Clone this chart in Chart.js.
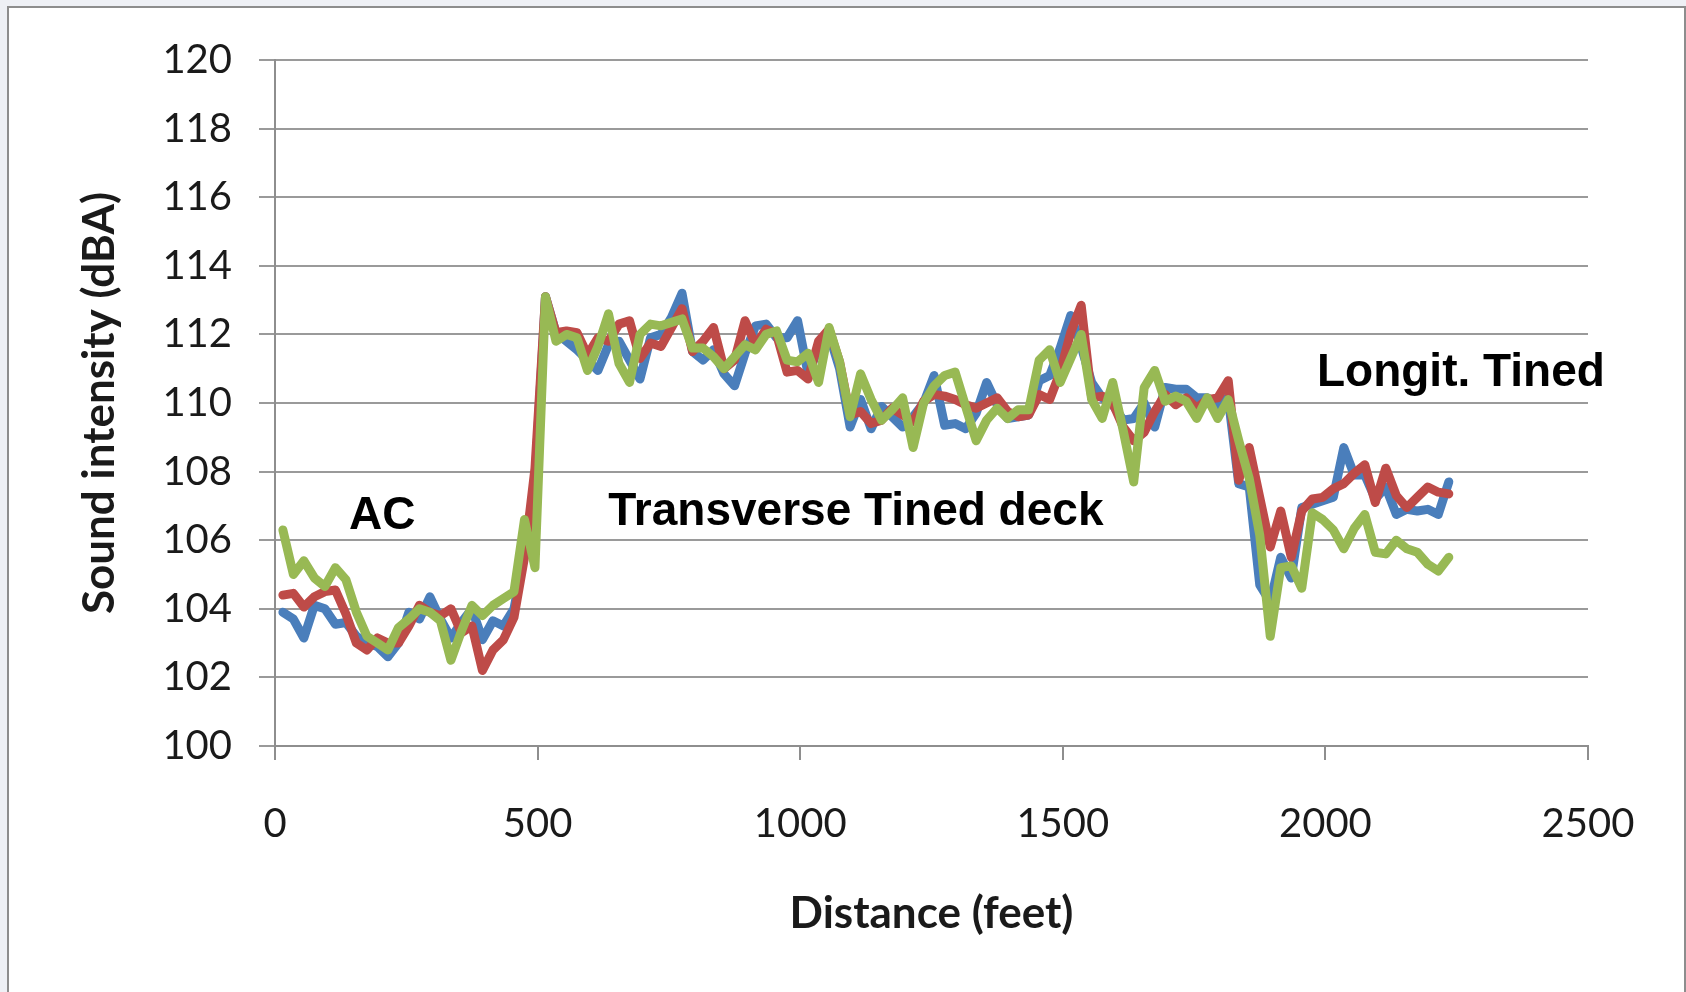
<!DOCTYPE html>
<html>
<head>
<meta charset="utf-8">
<script src="https://cdn.jsdelivr.net/npm/chart.js@4.4.0/dist/chart.umd.min.js"></script>
<style>
body { margin: 0; background: #eef0f5; width: 1686px; height: 992px; overflow: hidden; }
#frame { position: absolute; left: 7px; top: 6px; width: 1675px; height: 1000px; background: #fff; border: 2px solid #8d8d8d; }
canvas { position: absolute; left: 0; top: 0; }
</style>
</head>
<body>
<div id="frame"></div>
<canvas id="chart" width="1686" height="992"></canvas>
<script>
// distance along the deck, feet
var distances = [
    15, 35, 55, 75, 95, 115, 135, 155, 175, 195,
    215, 235, 255, 275, 295, 315, 335, 355, 375, 395,
    415, 435, 455, 475, 495, 515, 535, 555, 575, 595,
    615, 635, 655, 675, 695, 715, 735, 755, 775, 795,
    815, 835, 855, 875, 895, 915, 935, 955, 975, 995,
    1015, 1035, 1055, 1075, 1095, 1115, 1135, 1155, 1175, 1195,
    1215, 1235, 1255, 1275, 1295, 1315, 1335, 1355, 1375, 1395,
    1415, 1435, 1455, 1475, 1495, 1515, 1535, 1555, 1575, 1595,
    1615, 1635, 1655, 1675, 1695, 1715, 1735, 1755, 1775, 1795,
    1815, 1835, 1855, 1875, 1895, 1915, 1935, 1955, 1975, 1995,
    2015, 2035, 2055, 2075, 2095, 2115, 2135, 2155, 2175, 2195,
    2215, 2235
];

// sound intensity, dBA
var blueValues = [
    103.9, 103.7, 103.15, 104.1, 104.0, 103.55, 103.6, 103.2, 103.0, 102.9,
    102.6, 103.0, 103.9, 103.7, 104.35, 103.7, 103.15, 103.6, 104.0, 103.1,
    103.65, 103.5, 104.0, 105.6, 107.7, 113.1, 112.05, 111.8, 111.55, 111.25,
    110.95, 111.7, 111.8, 111.25, 110.7, 111.9, 112.0, 112.5, 113.2, 111.5,
    111.25, 111.55, 110.85, 110.5, 111.45, 112.25, 112.3, 111.9, 111.9, 112.4,
    110.85, 111.6, 112.0, 111.0, 109.3, 110.1, 109.25, 109.9, 109.6, 109.3,
    109.6, 110.0, 110.8, 109.35, 109.4, 109.25, 109.7, 110.6, 109.95, 109.55,
    109.6, 109.65, 110.65, 110.8, 111.6, 112.55, 111.65, 110.6, 110.15, 109.95,
    109.5, 109.55, 110.0, 109.3, 110.45, 110.4, 110.4, 110.15, 110.15, 109.95,
    110.15, 107.65, 107.55, 104.7, 104.2, 105.5, 104.9, 106.95, 107.05, 107.15,
    107.25, 108.7, 107.9, 107.9, 107.2, 107.55, 106.75, 106.9, 106.85, 106.9,
    106.75, 107.7
];
var redValues = [
    104.4, 104.45, 104.05, 104.35, 104.5, 104.55, 103.85, 103.0, 102.8, 103.15,
    103.0, 103.0, 103.5, 104.1, 103.9, 103.8, 104.0, 103.3, 103.5, 102.2,
    102.8, 103.1, 103.75, 105.5, 108.1, 113.1, 112.05, 112.1, 112.05, 111.4,
    111.9, 111.8, 112.3, 112.4, 111.3, 111.75, 111.65, 112.2, 112.75, 111.5,
    111.8, 112.2, 111.0, 111.25, 112.4, 111.7, 112.15, 112.0, 110.9, 110.95,
    110.7, 111.8, 112.15, 111.2, 109.65, 109.75, 109.4, 109.5, 109.85, 109.65,
    109.45, 110.05, 110.25, 110.2, 110.1, 109.95, 109.85, 110.0, 110.15, 109.75,
    109.6, 109.65, 110.25, 110.1, 110.9, 112.05, 112.85, 110.15, 110.2, 110.0,
    109.3, 108.9, 109.15, 109.75, 110.25, 109.95, 110.15, 109.85, 110.1, 110.15,
    110.65, 107.75, 108.7, 107.25, 105.8, 106.85, 105.5, 106.85, 107.2, 107.25,
    107.5, 107.65, 107.95, 108.2, 107.1, 108.1, 107.3, 106.95, 107.25, 107.55,
    107.4, 107.35
];
var greenValues = [
    106.3, 105.0, 105.4, 104.9, 104.65, 105.2, 104.85, 103.9, 103.2, 103.0,
    102.8, 103.45, 103.7, 104.0, 103.9, 103.65, 102.5, 103.35, 104.1, 103.8,
    104.1, 104.3, 104.5, 106.6, 105.2, 113.1, 111.8, 112.0, 111.9, 110.95,
    111.65, 112.6, 111.15, 110.6, 112.0, 112.3, 112.25, 112.35, 112.45, 111.6,
    111.6, 111.35, 111.0, 111.35, 111.7, 111.55, 112.0, 112.1, 111.25, 111.2,
    111.45, 110.6, 112.2, 111.2, 109.6, 110.85, 110.1, 109.5, 109.8, 110.15,
    108.7, 110.0, 110.5, 110.8, 110.9, 109.9, 108.9, 109.5, 109.85, 109.55,
    109.8, 109.8, 111.25, 111.55, 110.6, 111.3, 112.0, 110.1, 109.55, 110.6,
    109.2, 107.7, 110.45, 110.95, 110.05, 110.2, 110.05, 109.55, 110.15, 109.55,
    110.1, 108.9, 107.8, 106.15, 103.2, 105.2, 105.25, 104.6, 106.8, 106.6,
    106.3, 105.75, 106.35, 106.75, 105.65, 105.6, 106.0, 105.75, 105.65, 105.3,
    105.1, 105.5
];

var sectionNames = ['AC', 'Transverse Tined deck', 'Longit. Tined'];
var sectionX = [204, 1106, 2258];
var sectionY = [106.33, 106.44, 110.5];

function toPoints(values) {
    var pts = [];
    for (var i = 0; i < values.length; i++) {
        pts.push({x: distances[i], y: values[i]});
    }
    return pts;
}

// text labels placed through the chart scales
var sectionLabels = {
    id: 'sectionLabels',
    afterDatasetsDraw: function(chart) {
        var ctx = chart.ctx;
        ctx.save();
        ctx.font = 'bold 46px "Liberation Sans", Arial, sans-serif';
        ctx.fillStyle = '#000';
        ctx.textAlign = 'center';
        ctx.textBaseline = 'alphabetic';
        for (var i = 0; i < sectionNames.length; i++) {
            ctx.fillText(sectionNames[i],
                chart.scales.x.getPixelForValue(sectionX[i]),
                chart.scales.y.getPixelForValue(sectionY[i]));
        }
        ctx.restore();
    }
};

var axisColor = '#8e8e8e';
var textColor = '#1a1a1a';

function series(label, values, color, order) {
    return {
        label: label,
        data: toPoints(values),
        borderColor: color,
        backgroundColor: color,
        borderWidth: 9,
        borderJoinStyle: 'round',
        borderCapStyle: 'round',
        tension: 0,
        pointRadius: 0,
        fill: false,
        order: order
    };
}

var ctx = document.getElementById('chart').getContext('2d');
var myChart = new Chart(ctx, {
    type: 'line',
    data: {
        datasets: [
            series('Run 1', blueValues, '#4a7ebb', 3),
            series('Run 2', redValues, '#be4b48', 2),
            series('Run 3', greenValues, '#98b954', 1)
        ]
    },
    options: {
        responsive: false,
        animation: false,
        events: [],
        layout: {padding: {left: 0, right: 98, top: 60, bottom: 46}},
        plugins: {
            legend: {display: false},
            tooltip: {enabled: false}
        },
        scales: {
            x: {
                type: 'linear',
                min: 0,
                max: 2500,
                ticks: {stepSize: 500, color: textColor, padding: 40, maxRotation: 0,
                    font: {family: 'Lato', size: 40},
                    callback: function(value) { return String(value); }},
                grid: {drawOnChartArea: false, tickLength: 14, color: axisColor, lineWidth: 2},
                border: {color: axisColor, width: 2},
                title: {display: true, text: 'Distance (feet)', color: textColor,
                    font: {family: 'Lato', size: 44, weight: 'bold'}, padding: {top: 0, bottom: 6}},
                afterFit: function(scale) { scale.height = 200; }
            },
            y: {
                min: 100,
                max: 120,
                ticks: {stepSize: 2, color: textColor, padding: 27,
                    font: {family: 'Lato', size: 40}},
                grid: {color: '#9a9a9a', lineWidth: 2, tickLength: 16},
                border: {color: axisColor, width: 2},
                title: {display: true, text: 'Sound intensity (dBA)', color: textColor,
                    font: {family: 'Lato', size: 44, weight: 'bold'}, padding: {top: 73, bottom: 0}},
                afterFit: function(scale) { scale.width = 275; }
            }
        }
    },
    plugins: [sectionLabels]
});
</script>
</body>
</html>
